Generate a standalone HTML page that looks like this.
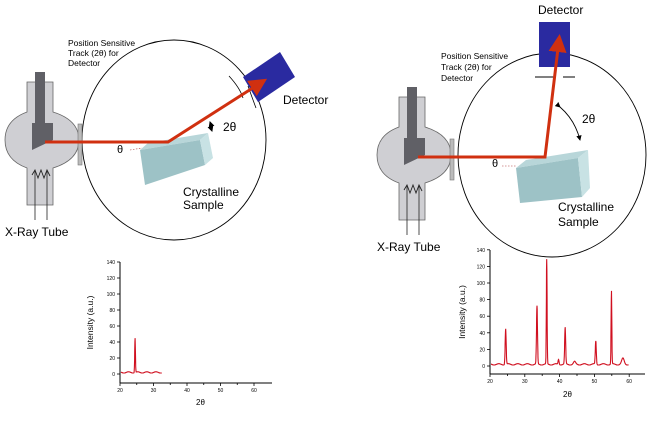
<!DOCTYPE html>
<html><head><meta charset="utf-8"><style>
html,body{margin:0;padding:0;background:#fff;width:661px;height:424px;overflow:hidden}
svg text{font-family:"Liberation Sans",sans-serif}
</style></head><body>
<svg width="661" height="424" viewBox="0 0 661 424" xmlns="http://www.w3.org/2000/svg">
<defs>
<marker id="ah" markerWidth="6" markerHeight="6" refX="4" refY="3" orient="auto" markerUnits="strokeWidth"><path d="M0,0 L6,3 L0,6 z" fill="#d03010"/></marker>
<marker id="sa" markerWidth="6" markerHeight="6" refX="5" refY="3" orient="auto"><path d="M0,0 L6,3 L0,6 z" fill="#000"/></marker>
<g id="tube">
<path d="M27,82 L53,82 L53,112 Q79,120 79,140 Q79,160 53,168 L53,205 L27,205 L27,168 Q5,160 5,140 Q5,120 27,112 Z" fill="#cfcfd3" stroke="#666" stroke-width="0.8"/>
<path d="M35,72 L45,72 L45,123 L53,123 L53,140 L32,150 L32,123 L35,123 Z" fill="#606066"/>
<path d="M32,175 L35,170 L38,178 L41,170 L44,178 L47,170 L50,176" fill="none" stroke="#222" stroke-width="0.9"/>
<line x1="35" y1="170" x2="35" y2="220" stroke="#222" stroke-width="0.8"/>
<line x1="47" y1="170" x2="47" y2="220" stroke="#222" stroke-width="0.8"/>
<rect x="78" y="124" width="4" height="41" fill="#bbb" stroke="#777" stroke-width="0.6"/>
</g>
</defs>

<!-- LEFT DIAGRAM -->
<ellipse cx="174" cy="140" rx="92" ry="100" fill="none" stroke="#000" stroke-width="0.9"/>
<use href="#tube"/>
<path d="M229,76 Q240,88 243,98" fill="none" stroke="#000" stroke-width="0.8"/>
<path d="M248,86 Q253,100 256,108" fill="none" stroke="#000" stroke-width="0.8"/>
<polygon points="243,77 280,52 295,77 258,102" fill="#2a2aa0"/>
<polygon points="140,150 200,140 208,133 148,143" fill="#b8d6d9"/>
<polygon points="140,150 200,140 205,165 145,185" fill="#9dc2c6"/>
<polygon points="200,140 208,133 213,158 205,165" fill="#c8e2e4"/>
<line x1="130" y1="150" x2="142" y2="148" stroke="#a33" stroke-width="0.6" stroke-dasharray="1.5,1.5"/>
<polyline points="45,142 168,142 262,82" fill="none" stroke="#d03010" stroke-width="3" marker-end="url(#ah)"/>
<line x1="212" y1="128" x2="210" y2="122" stroke="#000" stroke-width="1" marker-end="url(#sa)"/>
<line x1="210" y1="125" x2="212" y2="131" stroke="#000" stroke-width="1" marker-end="url(#sa)"/>
<text x="68" y="46" font-size="8.5">Position Sensitive</text>
<text x="68" y="56" font-size="8.5">Track (2θ) for</text>
<text x="68" y="66" font-size="8.5">Detector</text>
<text x="283" y="104" font-size="12">Detector</text>
<text x="223" y="131" font-size="12">2θ</text>
<text x="117" y="153" font-size="11">θ</text>
<text x="183" y="196" font-size="12">Crystalline</text>
<text x="183" y="209" font-size="12">Sample</text>
<text x="5" y="236" font-size="12">X-Ray Tube</text>

<!-- RIGHT DIAGRAM -->
<ellipse cx="552" cy="155" rx="94" ry="102" fill="none" stroke="#000" stroke-width="0.9"/>
<use href="#tube" transform="translate(372,15)"/>
<rect x="539" y="22" width="31" height="45" fill="#2a2aa0"/>
<line x1="535" y1="77" x2="555" y2="77" stroke="#000" stroke-width="1"/>
<line x1="563" y1="77" x2="575" y2="77" stroke="#000" stroke-width="1"/>
<polygon points="516,168 578,158 588,150 526,160" fill="#b8d6d9"/>
<polygon points="516,168 578,158 582,197 520,203" fill="#9dc2c6"/>
<polygon points="578,158 588,150 590,188 582,197" fill="#c8e2e4"/>
<line x1="502" y1="166" x2="516" y2="166" stroke="#a33" stroke-width="0.6" stroke-dasharray="1.5,1.5"/>
<polyline points="418,157 545,157 559,40" fill="none" stroke="#d03010" stroke-width="3" marker-end="url(#ah)"/>
<path d="M560,107 Q575,120 580,140" fill="none" stroke="#000" stroke-width="0.9" marker-start="url(#sa)" marker-end="url(#sa)"/>
<text x="538" y="14" font-size="12">Detector</text>
<text x="441" y="59" font-size="8.5">Position Sensitive</text>
<text x="441" y="70" font-size="8.5">Track (2θ) for</text>
<text x="441" y="81" font-size="8.5">Detector</text>
<text x="582" y="123" font-size="12">2θ</text>
<text x="492" y="167" font-size="11">θ</text>
<text x="558" y="211" font-size="12">Crystalline</text>
<text x="558" y="226" font-size="12">Sample</text>
<text x="377" y="251" font-size="12">X-Ray Tube</text>

<g id="c1"></g>
<g id="c2"></g>
</svg>
<script>
function chart(gid,x0,yTop,y0,yAx,xEnd,px10,py20,xmax,peaks,labX,labY,intX){
 var g=document.getElementById(gid),s='';
 s+='<line x1="'+x0+'" y1="'+yTop+'" x2="'+x0+'" y2="'+yAx+'" stroke="#000" stroke-width="1"/>';
 s+='<line x1="'+x0+'" y1="'+yAx+'" x2="'+xEnd+'" y2="'+yAx+'" stroke="#000" stroke-width="1"/>';
 for(var v=0;v<=140;v+=20){var y=y0-v/20*py20;
  s+='<line x1="'+(x0-3)+'" y1="'+y+'" x2="'+x0+'" y2="'+y+'" stroke="#000" stroke-width="0.8"/>';
  s+='<text x="'+(x0-5)+'" y="'+(y+2)+'" font-size="5" text-anchor="end">'+v+'</text>';}
 for(var t=20;t<=64;t+=5){var x=x0+(t-20)/10*px10;
  s+='<line x1="'+x+'" y1="'+yAx+'" x2="'+x+'" y2="'+(yAx+(t%10?2:3))+'" stroke="#000" stroke-width="0.8"/>';
  if(t%10==0)s+='<text x="'+x+'" y="'+(yAx+9)+'" font-size="5" text-anchor="middle">'+t+'</text>';}
 var d='';
 for(var a=20.3;a<=xmax;a+=0.05){var v=2+Math.sin(a*2.3)*0.8;
  peaks.forEach(function(p){v+=p[1]*Math.exp(-Math.pow((a-p[0])/(p[2]||0.2),2));});
  d+=(d?'L':'M')+(x0+(a-20)/10*px10).toFixed(1)+','+(y0-v/20*py20).toFixed(1);}
 s+='<path d="'+d+'" fill="none" stroke="#d01020" stroke-width="1.1"/>';
 s+='<text x="'+labX+'" y="'+labY+'" font-size="8">2θ</text>';
 s+='<text transform="translate('+intX+','+(yTop+yAx)/2+') rotate(-90)" font-size="8.5" text-anchor="middle">Intensity (a.u.)</text>';
 g.innerHTML=s;
}
chart('c1',120,262,374,383,272,33.5,16,32.5,[[24.5,43,0.15]],196,405,93);
chart('c2',490,250,366,374,645,34.8,16.6,59.8,[[24.5,43],[33.5,70],[36.3,126,0.15],[39.7,6],[41.6,44],[44.3,3,0.4],[50.4,28],[54.9,88,0.15],[58.2,7,0.5]],563,397,465);
</script>
</body></html>
